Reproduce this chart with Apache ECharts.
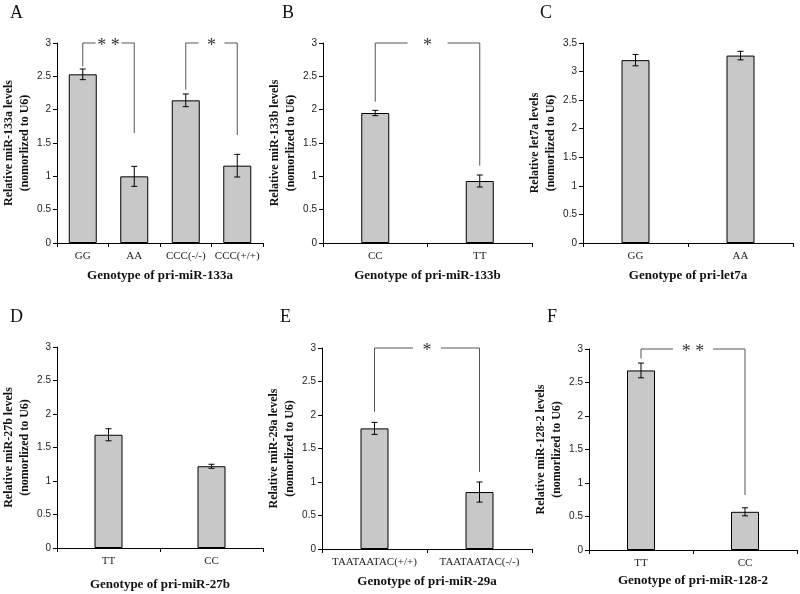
<!DOCTYPE html>
<html>
<head>
<meta charset="utf-8">
<script src="https://cdn.jsdelivr.net/npm/echarts@6/dist/echarts.min.js"></script>
<style>
  html, body { margin: 0; padding: 0; background: #fff; }
  #chart { width: 800px; height: 594px; }
</style>
</head>
<body>
<div id="chart"></div>
<script>
// panel A - pri-miR-133a
const catsA = ['GG', 'AA', 'CCC(-/-)', 'CCC(+/+)']
const valsA = [2.53, 1.0, 2.14, 1.16]
const errsA = [0.08, 0.15, 0.095, 0.17]
const sigA = [[0, 1, 2.65, 3, 1.65], [2, 3, 2.3, 3, 1.62]]
const sigLabelsA = ['**', '*']

// panel B - pri-miR-133b
const catsB = ['CC', 'TT']
const valsB = [1.95, 0.93]
const errsB = [0.04, 0.09]
const sigB = [[0, 1, 2.12, 3, 1.16]]
const sigLabelsB = ['*']

// panel C - pri-let7a
const catsC = ['GG', 'AA']
const valsC = [3.2, 3.28]
const errsC = [0.1, 0.075]

// panel D - pri-miR-27b
const catsD = ['TT', 'CC']
const valsD = [1.69, 1.22]
const errsD = [0.09, 0.03]

// panel E - pri-miR-29a
const catsE = ['TAATAATAC(+/+)', 'TAATAATAC(-/-)']
const valsE = [1.80, 0.85]
const errsE = [0.09, 0.15]
const sigE = [[0, 1, 2.05, 3, 1.15]]
const sigLabelsE = ['*']

// panel F - pri-miR-128-2
const catsF = ['TT', 'CC']
const valsF = [2.68, 0.57]
const errsF = [0.11, 0.06]
const sigF = [[0, 1, 2.86, 3, 0.82]]
const sigLabelsF = ['**']

const yMaxes = [3, 3, 3.5, 3, 3, 3]

const SERIF = '"Liberation Serif", "Times New Roman", serif'
const SANS = '"Liberation Sans", Arial, sans-serif'

const panels = [
  { letter: 'A', cats: catsA, vals: valsA, errs: errsA, sig: sigA, sigLabels: sigLabelsA,
    yName: 'Relative miR-133a levels\n(nomorlized to U6)', xName: 'Genotype of pri-miR-133a',
    grid: { left: 55, top: 43, width: 208, height: 200 }, gap: 13, xGap: 26, letterPos: [10, 4] },
  { letter: 'B', cats: catsB, vals: valsB, errs: errsB, sig: sigB, sigLabels: sigLabelsB,
    yName: 'Relative miR-133b levels\n(nomorlized to U6)', xName: 'Genotype of pri-miR-133b',
    grid: { left: 323, top: 43, width: 209, height: 200 }, gap: 20, xGap: 26, letterPos: [282, 4] },
  { letter: 'C', cats: catsC, vals: valsC, errs: errsC, sig: [], sigLabels: [],
    yName: 'Relative let7a levels\n(nomorlized to U6)', xName: 'Genotype of pri-let7a',
    grid: { left: 583, top: 43, width: 210, height: 200 }, gap: 14, xGap: 26, letterPos: [540, 4] },
  { letter: 'D', cats: catsD, vals: valsD, errs: errsD, sig: [], sigLabels: [],
    yName: 'Relative miR-27b levels\n(nomorlized to U6)', xName: 'Genotype of pri-miR-27b',
    grid: { left: 55, top: 347, width: 208, height: 201 }, gap: 14, xGap: 30, letterPos: [10, 308] },
  { letter: 'E', cats: catsE, vals: valsE, errs: errsE, sig: sigE, sigLabels: sigLabelsE,
    yName: 'Relative miR-29a levels\n(nomorlized to U6)', xName: 'Genotype of pri-miR-29a',
    grid: { left: 322, top: 348, width: 210, height: 201 }, gap: 14, xGap: 26, letterPos: [280, 308] },
  { letter: 'F', cats: catsF, vals: valsF, errs: errsF, sig: sigF, sigLabels: sigLabelsF,
    yName: 'Relative miR-128-2 levels\n(nomorlized to U6)', xName: 'Genotype of pri-miR-128-2',
    grid: { left: 589, top: 349, width: 208, height: 201 }, gap: 20, xGap: 24, letterPos: [547, 308] }
]

// error bar: vertical whisker with small caps
const renderErr = (params, api) => {
  const lo = api.coord([api.value(0), api.value(1)])
  const hi = api.coord([api.value(0), api.value(2)])
  const w = 3
  const st = { stroke: '#000', lineWidth: 1 }
  return {
    type: 'group',
    children: [
      { type: 'line', shape: { x1: lo[0], y1: lo[1], x2: hi[0], y2: hi[1] }, style: st },
      { type: 'line', shape: { x1: lo[0] - w, y1: lo[1], x2: lo[0] + w, y2: lo[1] }, style: st },
      { type: 'line', shape: { x1: hi[0] - w, y1: hi[1], x2: hi[0] + w, y2: hi[1] }, style: st }
    ]
  }
}

// significance bracket with a gap for the stars
const makeBracketRenderer = (labels, gap) => (params, api) => {
  const a = api.coord([api.value(0), api.value(2)])
  const b = api.coord([api.value(0), api.value(3)])
  const c = api.coord([api.value(1), api.value(3)])
  const d = api.coord([api.value(1), api.value(4)])
  const mid = (b[0] + c[0]) / 2
  const st = { stroke: '#555', lineWidth: 1, fill: null }
  const label = labels[params.dataIndex].split('').join(' ')
  return {
    type: 'group',
    children: [
      { type: 'polyline', shape: { points: [a, b, [mid - gap, b[1]]] }, style: st },
      { type: 'polyline', shape: { points: [[mid + gap, c[1]], c, d] }, style: st },
      { type: 'text', x: mid, y: b[1] + 3,
        style: { text: label, fill: '#333', font: '18px ' + SERIF, align: 'center', verticalAlign: 'middle' } }
    ]
  }
}

const grids = []
const xAxes = []
const yAxes = []
const series = []
const graphics = []

panels.forEach((p, i) => {
  grids.push(Object.assign({ containLabel: false }, p.grid))
  xAxes.push({
    type: 'category',
    gridIndex: i,
    data: p.cats,
    name: p.xName,
    nameLocation: 'middle',
    nameGap: p.xGap,
    nameTextStyle: { fontFamily: SERIF, fontWeight: 'bold', fontSize: 13, color: '#111' },
    axisLine: { lineStyle: { color: '#000', width: 1 } },
    axisTick: { show: true, length: 4, lineStyle: { color: '#000' } },
    axisLabel: { interval: 0, fontFamily: SERIF, fontSize: 11, color: '#222', margin: 8 },
    splitLine: { show: false }
  })
  yAxes.push({
    type: 'value',
    gridIndex: i,
    min: 0,
    max: yMaxes[i],
    interval: 0.5,
    name: p.yName,
    nameLocation: 'middle',
    nameGap: 24,
    nameTextStyle: { fontFamily: SERIF, fontWeight: 'bold', fontSize: 12, color: '#111', lineHeight: 16 },
    axisLine: { show: true, lineStyle: { color: '#000', width: 1 } },
    axisTick: { show: true, length: 4, lineStyle: { color: '#000' } },
    axisLabel: { fontFamily: SANS, fontSize: 10, color: '#222', margin: 6 },
    splitLine: { show: false }
  })
  series.push({
    type: 'bar',
    xAxisIndex: i,
    yAxisIndex: i,
    data: p.vals,
    barWidth: 28,
    itemStyle: { color: '#c8c8c8', borderColor: '#000', borderWidth: 1 }
  })
  series.push({
    type: 'custom',
    xAxisIndex: i,
    yAxisIndex: i,
    z: 3,
    renderItem: renderErr,
    data: p.vals.map((v, k) => [k, v - p.errs[k], v + p.errs[k]])
  })
  if (p.sig.length) {
    series.push({
      type: 'custom',
      xAxisIndex: i,
      yAxisIndex: i,
      z: 3,
      renderItem: makeBracketRenderer(p.sigLabels, p.gap),
      data: p.sig
    })
  }
  graphics.push({
    type: 'text',
    left: p.letterPos[0],
    top: p.letterPos[1],
    style: { text: p.letter, font: '18px ' + SERIF, fill: '#111' }
  })
})

const option = {
  animation: false,
  backgroundColor: '#fff',
  grid: grids,
  xAxis: xAxes,
  yAxis: yAxes,
  series: series,
  graphic: graphics
}

const myChart = echarts.init(document.getElementById('chart'))
option && myChart.setOption(option)
</script>
</body>
</html>
